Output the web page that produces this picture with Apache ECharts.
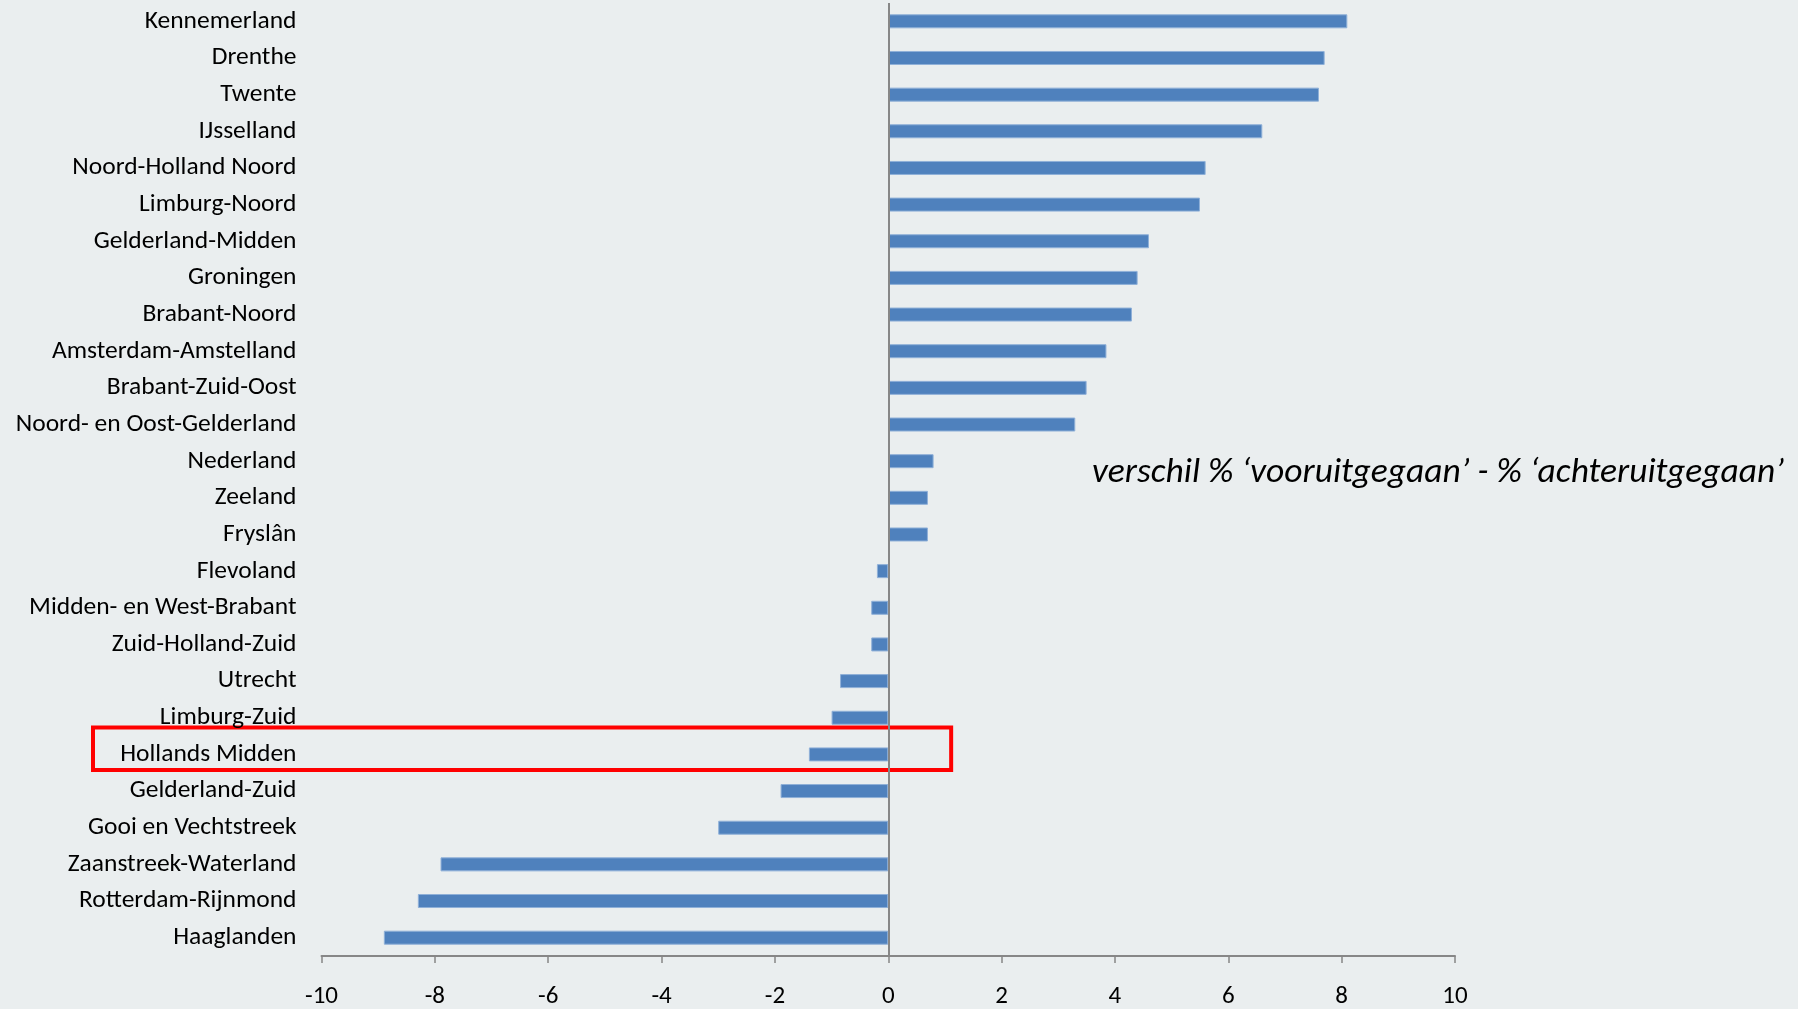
<!DOCTYPE html>
<html>
<head>
<meta charset="utf-8">
<script src="https://cdn.jsdelivr.net/npm/echarts@6/dist/echarts.min.js"></script>
<style>
  html, body { margin: 0; padding: 0; background: #EAEEEF; }
  #chart { width: 1798px; height: 1009px; }
</style>
</head>
<body>
<div id="chart"></div>
<script>
const categories = [
  'Kennemerland', 'Drenthe', 'Twente', 'IJsselland', 'Noord-Holland Noord',
  'Limburg-Noord', 'Gelderland-Midden', 'Groningen', 'Brabant-Noord',
  'Amsterdam-Amstelland', 'Brabant-Zuid-Oost', 'Noord- en Oost-Gelderland',
  'Nederland', 'Zeeland', 'Fryslân', 'Flevoland', 'Midden- en West-Brabant',
  'Zuid-Holland-Zuid', 'Utrecht', 'Limburg-Zuid', 'Hollands Midden',
  'Gelderland-Zuid', 'Gooi en Vechtstreek', 'Zaanstreek-Waterland',
  'Rotterdam-Rijnmond', 'Haaglanden'
];
const values = [
  8.1, 7.7, 7.6, 6.6, 5.6,
  5.5, 4.6, 4.4, 4.3,
  3.85, 3.5, 3.3,
  0.8, 0.7, 0.7, -0.2, -0.3,
  -0.3, -0.85, -1.0, -1.4,
  -1.9, -3.0, -7.9,
  -8.3, -8.9
];
const xTicks = { min: -10, max: 10, interval: 2 };
const annotationText = "verschil % \u2018vooruitgegaan\u2019 - % \u2018achteruitgegaan\u2019";
const highlighted = 'Hollands Midden';

const FONT = "Carlito, 'Liberation Sans Narrow', Lato, sans-serif";

const chart = echarts.init(document.getElementById('chart'), null, { renderer: 'canvas' });
const option = {
  backgroundColor: '#EAEEEF',
  animation: false,
  grid: { left: 321.5, right: 343, top: 3, bottom: 51.5, containLabel: false },
  xAxis: {
    type: 'value',
    min: xTicks.min, max: xTicks.max, interval: xTicks.interval,
    axisLine: { show: true, onZero: false, lineStyle: { color: '#878787', width: 2 } },
    axisTick: { show: true, length: 7, lineStyle: { color: '#878787', width: 1.5 } },
    splitLine: { show: false },
    axisLabel: { color: '#000', fontFamily: FONT, fontSize: 25, margin: 28 }
  },
  yAxis: {
    type: 'category',
    data: categories,
    inverse: true,
    axisLine: { show: false },
    axisTick: { show: false },
    axisLabel: { color: '#000', fontFamily: FONT, fontSize: 25.5, margin: 25 }
  },
  series: [{
    type: 'bar',
    data: values,
    barWidth: 14,
    itemStyle: { color: '#4F81BD', borderColor: '#8FB0D8', borderWidth: 1 },
    markLine: {
      silent: true,
      symbol: ['none', 'none'],
      label: { show: false },
      lineStyle: { color: '#878787', width: 2, type: 'solid' },
      data: [{ xAxis: 0 }]
    }
  }]
};
chart.setOption(option);

const yc = chart.convertToPixel({ yAxisIndex: 0 }, highlighted);
const xr = chart.convertToPixel({ xAxisIndex: 0 }, 1.11);
const boxLeft = 93;
chart.setOption({
  graphic: [
    {
      type: 'rect',
      shape: { x: boxLeft, y: yc - 27, width: xr - boxLeft, height: 42.5 },
      style: { fill: 'none', stroke: '#FF0000', lineWidth: 4 },
      silent: true
    },
    {
      type: 'text',
      x: 1092,
      y: 473,
      style: {
        text: annotationText,
        fill: '#000',
        font: "italic 35.5px " + FONT,
        textVerticalAlign: 'middle',
        verticalAlign: 'middle'
      },
      silent: true
    }
  ]
});
</script>
</body>
</html>
